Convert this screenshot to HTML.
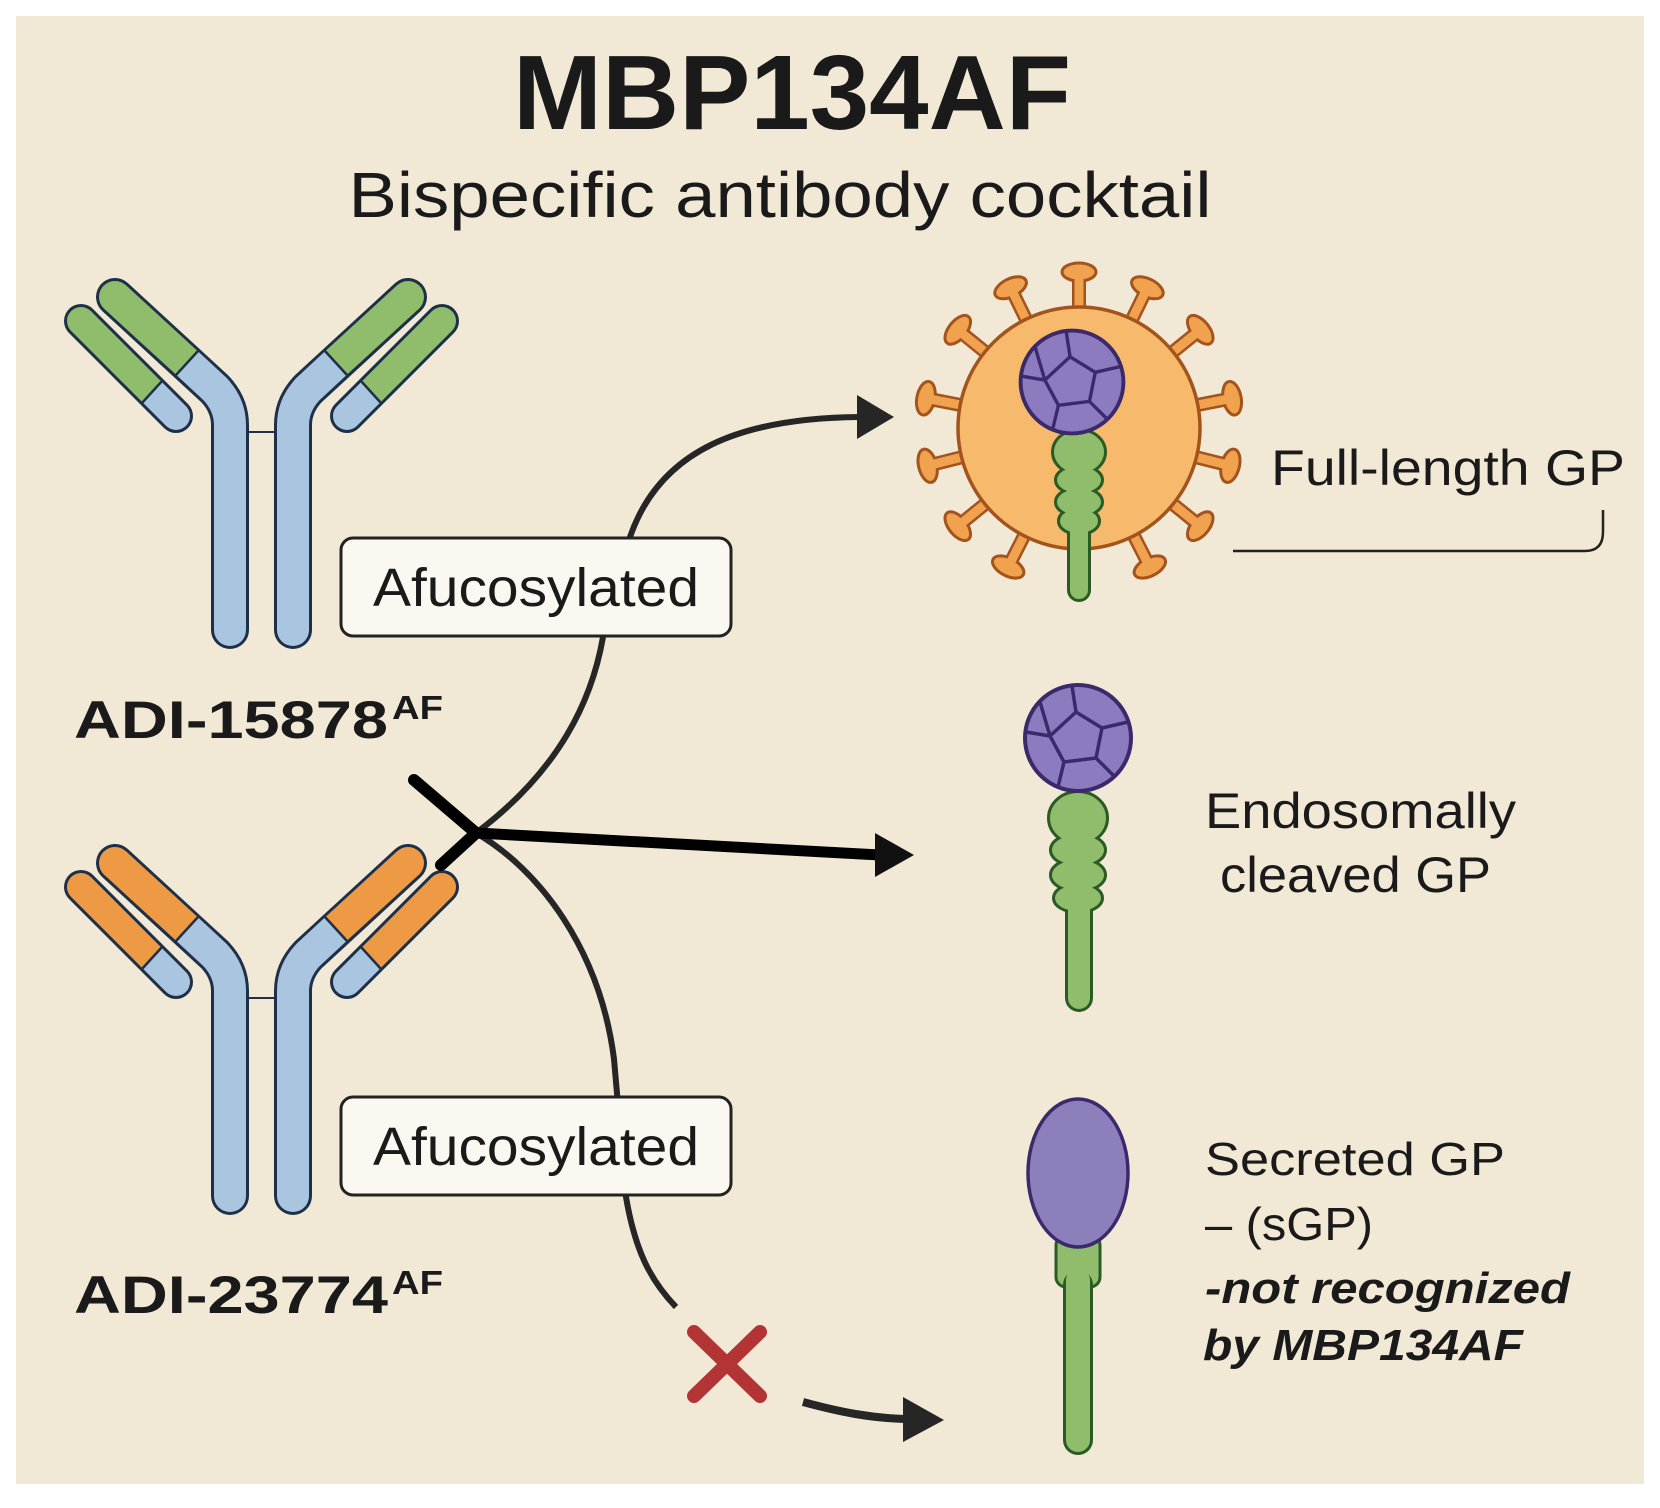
<!DOCTYPE html>
<html><head><meta charset="utf-8">
<style>
html,body{margin:0;padding:0;background:#fff;}
svg{display:block;}
text{font-family:"Liberation Sans","DejaVu Sans",sans-serif;fill:#1a1a1a;}
</style></head>
<body>
<svg width="1660" height="1508" viewBox="0 0 1660 1508" xmlns="http://www.w3.org/2000/svg">
<defs>
  <g id="ab">
    <path d="M230,630 L230,425 Q230,405 215,389 L115,297" fill="none" stroke="#1e3048" stroke-width="38" stroke-linecap="round" stroke-linejoin="round"/>
    <path d="M176,416 L81,321" fill="none" stroke="#1e3048" stroke-width="34" stroke-linecap="round"/>
    <path d="M230,630 L230,425 Q230,405 215,389 L187,363" fill="none" stroke="#a9c5df" stroke-width="32" stroke-linecap="round" stroke-linejoin="round"/>
    <path d="M176,416 L152,392" fill="none" stroke="#a9c5df" stroke-width="28" stroke-linecap="round"/>
  </g>
  <g id="tipsG">
    <path d="M187,363 L115,297" fill="none" stroke="#8fbd6c" stroke-width="32" stroke-linecap="butt"/>
    <circle cx="115" cy="297" r="16" fill="#8fbd6c"/>
    <path d="M152,392 L81,321" fill="none" stroke="#8fbd6c" stroke-width="28"/>
    <circle cx="81" cy="321" r="14" fill="#8fbd6c"/>
    <line x1="176" y1="375" x2="198" y2="351" stroke="#1e3048" stroke-width="2.5"/>
    <line x1="142" y1="403" x2="162" y2="381" stroke="#1e3048" stroke-width="2.5"/>
  </g>
  <g id="tipsO">
    <path d="M187,363 L115,297" fill="none" stroke="#ee9a45" stroke-width="32" stroke-linecap="butt"/>
    <circle cx="115" cy="297" r="16" fill="#ee9a45"/>
    <path d="M152,392 L81,321" fill="none" stroke="#ee9a45" stroke-width="28"/>
    <circle cx="81" cy="321" r="14" fill="#ee9a45"/>
    <line x1="176" y1="375" x2="198" y2="351" stroke="#1e3048" stroke-width="2.5"/>
    <line x1="142" y1="403" x2="162" y2="381" stroke="#1e3048" stroke-width="2.5"/>
  </g>
  <g id="head">
    <circle cx="0" cy="0" r="53" fill="#8d7bc0" stroke="#3b2a6b" stroke-width="4"/>
    <polygon points="-2,-26 24,-10 18,20 -14,24 -28,-2" fill="none" stroke="#3b2a6b" stroke-width="3.5"/>
    <g stroke="#3b2a6b" stroke-width="3.5" fill="none">
      <line x1="-2" y1="-26" x2="-6" y2="-52"/>
      <line x1="24" y1="-10" x2="50" y2="-16"/>
      <line x1="18" y1="20" x2="36" y2="38"/>
      <line x1="-14" y1="24" x2="-20" y2="49"/>
      <line x1="-28" y1="-2" x2="-52" y2="-6"/>
      <line x1="-28" y1="-2" x2="-38" y2="-36"/>
    </g>
  </g>
  <g id="spike">
    <line x1="0" y1="-118" x2="0" y2="-150" stroke="#a3531c" stroke-width="14" stroke-linecap="round"/>
    <ellipse cx="0" cy="-156" rx="17" ry="9" fill="#f0a24f" stroke="#a3531c" stroke-width="3"/>
    <line x1="0" y1="-118" x2="0" y2="-150" stroke="#f0a24f" stroke-width="9"/>
  </g>
</defs>

<rect x="16" y="16" width="1628" height="1468" fill="#f1e9d5"/>

<text x="792" y="129" text-anchor="middle" font-size="106" font-weight="bold" textLength="558" lengthAdjust="spacingAndGlyphs">MBP134AF</text>
<text x="780" y="217" text-anchor="middle" font-size="64" textLength="863" lengthAdjust="spacingAndGlyphs">Bispecific antibody cocktail</text>

<g>
  <use href="#ab"/><use href="#tipsG"/>
  <g transform="translate(523,0) scale(-1,1)"><use href="#ab"/><use href="#tipsG"/></g>
  <line x1="247" y1="432" x2="277" y2="432" stroke="#1e3048" stroke-width="2"/>
</g>
<g transform="translate(0,566)">
  <use href="#ab"/><use href="#tipsO"/>
  <g transform="translate(523,0) scale(-1,1)"><use href="#ab"/><use href="#tipsO"/></g>
  <line x1="247" y1="432" x2="277" y2="432" stroke="#1e3048" stroke-width="2"/>
</g>

<text x="74" y="738" font-size="53" font-weight="bold" textLength="314" lengthAdjust="spacingAndGlyphs" fill="#111">ADI-15878</text>
<text x="392" y="719" font-size="33" font-weight="bold" textLength="51" lengthAdjust="spacingAndGlyphs" fill="#111">AF</text>
<text x="74" y="1313" font-size="53" font-weight="bold" textLength="314" lengthAdjust="spacingAndGlyphs" fill="#111">ADI-23774</text>
<text x="392" y="1294" font-size="33" font-weight="bold" textLength="51" lengthAdjust="spacingAndGlyphs" fill="#111">AF</text>

<path d="M476,833 C560,770 592,700 603,637 L630,537 C660,450 740,418 860,417" fill="none" stroke="#262626" stroke-width="6"/>
<polygon points="894,417 857,395 857,439" fill="#262626"/>
<path d="M476,833 C540,870 600,950 614,1059 L626,1197 C635,1250 650,1280 676,1307" fill="none" stroke="#262626" stroke-width="6"/>
<path d="M476,833 L880,855" stroke="#000" stroke-width="11"/>
<polygon points="914,855 875,833 875,877" fill="#111"/>
<line x1="414" y1="780" x2="476" y2="833" stroke="#000" stroke-width="12" stroke-linecap="round"/>
<line x1="441" y1="865" x2="476" y2="833" stroke="#000" stroke-width="12" stroke-linecap="round"/>
<path d="M803,1402 C840,1412 870,1418 905,1419" fill="none" stroke="#262626" stroke-width="8"/>
<polygon points="944,1420 903,1397 903,1442" fill="#262626"/>
<g stroke="#b23434" stroke-width="14" stroke-linecap="round">
  <line x1="694" y1="1332" x2="760" y2="1396"/>
  <line x1="760" y1="1332" x2="694" y2="1396"/>
</g>

<rect x="341" y="538" width="390" height="98" rx="12" fill="#fbf8f1" stroke="#222" stroke-width="3"/>
<text x="373" y="606" font-size="54" textLength="326" lengthAdjust="spacingAndGlyphs">Afucosylated</text>
<rect x="341" y="1097" width="390" height="98" rx="12" fill="#fbf8f1" stroke="#222" stroke-width="3"/>
<text x="373" y="1165" font-size="54" textLength="326" lengthAdjust="spacingAndGlyphs">Afucosylated</text>

<g transform="translate(1079,428)">
  <use href="#spike" transform="rotate(0)"/>
  <use href="#spike" transform="rotate(-26)"/>
  <use href="#spike" transform="rotate(26)"/>
  <use href="#spike" transform="rotate(-51)"/>
  <use href="#spike" transform="rotate(51)"/>
  <use href="#spike" transform="rotate(-79)"/>
  <use href="#spike" transform="rotate(79)"/>
  <use href="#spike" transform="rotate(-104)"/>
  <use href="#spike" transform="rotate(104)"/>
  <use href="#spike" transform="rotate(-129)"/>
  <use href="#spike" transform="rotate(129)"/>
  <use href="#spike" transform="rotate(-153)"/>
  <use href="#spike" transform="rotate(153)"/>
  <circle cx="0" cy="0" r="121" fill="#f7b96b" stroke="#a3531c" stroke-width="3.5"/>
</g>
<g stroke="#2c5a25" stroke-width="6">
  <ellipse cx="1079" cy="452" rx="25" ry="21"/>
  <ellipse cx="1079" cy="480" rx="22" ry="13"/>
  <ellipse cx="1079" cy="502" rx="22" ry="13"/>
  <ellipse cx="1079" cy="521" rx="19" ry="12"/>
  <line x1="1079" y1="525" x2="1079" y2="590" stroke-width="24" stroke-linecap="round"/>
</g>
<g fill="#8fbd6c">
  <ellipse cx="1079" cy="452" rx="25" ry="21"/>
  <ellipse cx="1079" cy="480" rx="22" ry="13"/>
  <ellipse cx="1079" cy="502" rx="22" ry="13"/>
  <ellipse cx="1079" cy="521" rx="19" ry="12"/>
  <line x1="1079" y1="525" x2="1079" y2="590" stroke="#8fbd6c" stroke-width="18" stroke-linecap="round"/>
</g>
<use href="#head" transform="translate(1072,382) scale(0.97)"/>

<g stroke="#2c5a25" stroke-width="6">
  <ellipse cx="1078" cy="818" rx="28" ry="25"/>
  <ellipse cx="1078" cy="850" rx="26" ry="15"/>
  <ellipse cx="1078" cy="875" rx="26" ry="15"/>
  <ellipse cx="1078" cy="898" rx="23" ry="13"/>
  <line x1="1079" y1="905" x2="1079" y2="998" stroke-width="28" stroke-linecap="round"/>
</g>
<g fill="#8fbd6c">
  <ellipse cx="1078" cy="818" rx="28" ry="25"/>
  <ellipse cx="1078" cy="850" rx="26" ry="15"/>
  <ellipse cx="1078" cy="875" rx="26" ry="15"/>
  <ellipse cx="1078" cy="898" rx="23" ry="13"/>
  <line x1="1079" y1="905" x2="1079" y2="998" stroke="#8fbd6c" stroke-width="22" stroke-linecap="round"/>
</g>
<use href="#head" transform="translate(1078,738)"/>

<rect x="1056" y="1235" width="44" height="52" rx="10" fill="#8fbd6c" stroke="#2c5a25" stroke-width="3"/>
<line x1="1078" y1="1285" x2="1078" y2="1440" stroke="#2c5a25" stroke-width="30" stroke-linecap="round"/>
<line x1="1078" y1="1280" x2="1078" y2="1440" stroke="#8fbd6c" stroke-width="24" stroke-linecap="round"/>
<ellipse cx="1078" cy="1173" rx="50" ry="74" fill="#8d7fbb" stroke="#3b2a6b" stroke-width="3.5"/>

<text x="1271" y="485" font-size="50" textLength="354" lengthAdjust="spacingAndGlyphs">Full-length GP</text>
<path d="M1233,551 L1585,551 Q1603,551 1603,532 L1603,510" fill="none" stroke="#222" stroke-width="2.5"/>
<text x="1205" y="828" font-size="50" textLength="311" lengthAdjust="spacingAndGlyphs">Endosomally</text>
<text x="1220" y="892" font-size="50" textLength="271" lengthAdjust="spacingAndGlyphs">cleaved GP</text>
<text x="1205" y="1175" font-size="46" textLength="300" lengthAdjust="spacingAndGlyphs">Secreted GP</text>
<text x="1205" y="1240" font-size="46" textLength="168" lengthAdjust="spacingAndGlyphs">– (sGP)</text>
<text x="1205" y="1303" font-size="44" font-weight="bold" font-style="italic" textLength="365" lengthAdjust="spacingAndGlyphs" fill="#111">-not recognized</text>
<text x="1203" y="1360" font-size="44" font-weight="bold" font-style="italic" textLength="320" lengthAdjust="spacingAndGlyphs" fill="#111">by MBP134AF</text>
</svg>
</body></html>
